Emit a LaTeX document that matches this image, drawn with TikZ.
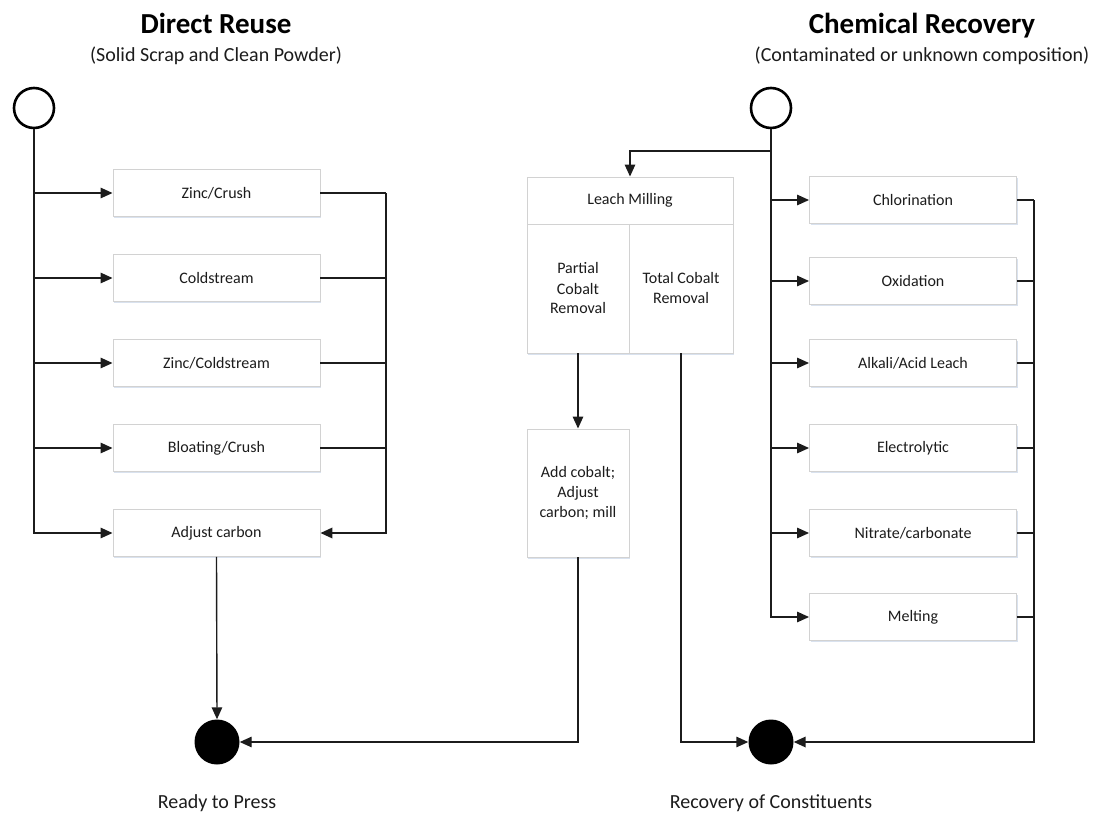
\documentclass[tikz,border=0pt]{standalone}
\usepackage{fontspec}
\setmainfont{Carlito}
\usetikzlibrary{arrows.meta,shadows}
\definecolor{boxline}{HTML}{D2D2D2}
\definecolor{ink}{HTML}{1C1C1C}
\definecolor{shade}{HTML}{C9D5E8}
\begin{document}
\begin{tikzpicture}[x=1pt,y=-1pt,
  cell/.style={draw=boxline, line width=0.9pt, fill=white, inner sep=0pt,
    font=\fontsize{16}{20}\selectfont, text=ink, align=center,
    drop shadow={shadow xshift=1.2pt, shadow yshift=-1.6pt, fill=shade, opacity=0.7}},
  proc/.style={cell, minimum width=207pt, minimum height=47pt},
  startc/.style={circle, draw=black, line width=2.6pt, fill=white, minimum size=40pt, inner sep=0pt},
  endc/.style={circle, fill=black, minimum size=45pt, inner sep=0pt},
  wire/.style={draw=ink, line width=1.4pt},
  flow/.style={wire, -{Triangle[length=12pt,width=10.5pt]}},
  title/.style={font=\fontsize{29}{33}\selectfont\bfseries, anchor=base},
  subtitle/.style={font=\fontsize{20}{23}\selectfont, text=ink, anchor=base},
  lbl/.style={font=\fontsize{20}{23}\selectfont, text=ink, anchor=base}]
\useasboundingbox (0,0) rectangle (1096,814);

% headings
\node[title] (t1) at (216,33) {Direct Reuse};
\node[subtitle] (st1) at (216,61) {(Solid Scrap and Clean Powder)};
\node[title] (t2) at (922,33) {Chemical Recovery};
\node[subtitle] (st2) at (922,61) {(Contaminated or unknown composition)};

% start and end states
\node[startc] (s1) at (34,108) {};
\node[startc] (s2) at (771,108) {};
\node[endc] (e1) at (217,742) {};
\node[endc] (e2) at (771,742) {};
\node[lbl] (l1) at (217,808) {Ready to Press};
\node[lbl] (l2) at (771,808) {Recovery of Constituents};

% direct reuse steps
\node[proc] (zc) at (216.5,193) {Zinc/Crush};
\node[proc] (cs) at (216.5,278) {Coldstream};
\node[proc] (zcs) at (216.5,363) {Zinc/Coldstream};
\node[proc] (bc) at (216.5,448) {Bloating/Crush};
\node[proc] (ac) at (216.5,533) {Adjust carbon};

% leach milling block
\node[cell, minimum width=206pt, minimum height=47pt] (lm) at (630,200.5) {Leach Milling};
\node[cell, minimum width=102pt, minimum height=129pt] (pcr) at (578,288.5) {Partial\\Cobalt\\Removal};
\node[cell, minimum width=104pt, minimum height=129pt] (tcr) at (681,288.5) {Total Cobalt\\Removal};
\node[cell, minimum width=102pt, minimum height=128pt] (acm) at (578,493) {Add cobalt;\\Adjust\\carbon; mill};

% chemical recovery steps
\node[proc] (chl) at (913,200) {Chlorination};
\node[proc] (oxi) at (913,281) {Oxidation};
\node[proc] (alk) at (913,363) {Alkali/Acid Leach};
\node[proc] (ele) at (913,448) {Electrolytic};
\node[proc] (nit) at (913,533) {Nitrate/carbonate};
\node[proc] (mel) at (913,617) {Melting};

% direct reuse: fan out
\draw[wire, line width=2pt] (s1.south) -- (s1.south |- ac.west);
\foreach \b in {zc,cs,zcs,bc,ac}
  \draw[flow] (s1.south) |- (\b.west);

% direct reuse: gather into carbon adjustment
\coordinate (jL) at (386,193);
\foreach \b in {zc,cs,zcs,bc}
  \draw[wire] (\b.east) -- (\b.east -| jL);
\draw[flow, line width=1.8pt] (jL) |- (ac.east);
\draw[flow] (ac.south) -- (e1.north);

% leach milling route
\coordinate (jM) at (771,151);
\draw[flow] (jM) -| (lm.north);
\draw[flow] (pcr.south) -- (acm.north);
\draw[flow] (acm.south) |- (e1.east);
\draw[flow] (tcr.south) |- (e2.west);

% chemical recovery: fan out
\foreach \b in {chl,oxi,alk,ele,nit,mel}
  \draw[flow] (s2.south) |- (\b.west);

% chemical recovery: gather
\coordinate (jR) at (1034,200);
\foreach \b in {chl,oxi,alk,ele,nit,mel}
  \draw[wire] (\b.east) -- (\b.east -| jR);
\draw[flow, line width=1.8pt] (jR) |- (e2.east);
\end{tikzpicture}
\end{document}
